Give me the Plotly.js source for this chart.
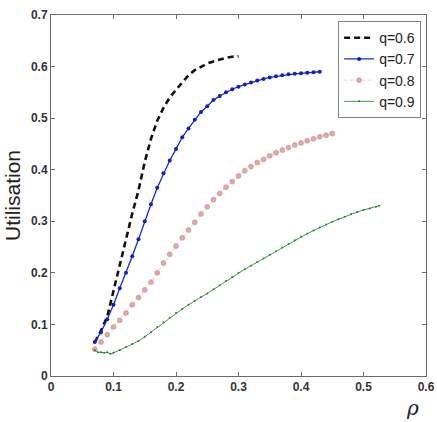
<!DOCTYPE html>
<html>
<head>
<meta charset="utf-8">
<script src="https://cdn.plot.ly/plotly-3.0.1.min.js"></script>
<style>html,body{margin:0;padding:0;background:#fff;}#chart{width:437px;height:422px;}</style>
</head>
<body>
<div id="chart"></div>
<script>
// q = 0.6
const rho06 = [0.07,0.08,0.09,0.10,0.11,0.12,0.13,0.14,0.15,0.16,0.17,0.18,0.19,0.20,0.21,0.22,0.23,0.24,0.25,0.26,0.27,0.28,0.29,0.30];
const util06 = [0.065,0.088,0.115,0.165,0.22,0.265,0.315,0.36,0.415,0.46,0.495,0.52,0.54,0.555,0.57,0.583,0.593,0.600,0.606,0.610,0.614,0.617,0.619,0.620];
// q = 0.7
const rho07 = [0.07,0.08,0.09,0.10,0.11,0.12,0.13,0.14,0.15,0.16,0.17,0.18,0.19,0.20,0.21,0.22,0.23,0.24,0.25,0.26,0.27,0.28,0.29,0.30,0.31,0.32,0.33,0.34,0.35,0.36,0.37,0.38,0.39,0.40,0.41,0.42,0.43];
const util07 = [0.066,0.085,0.11,0.138,0.17,0.2,0.232,0.265,0.3,0.333,0.365,0.393,0.418,0.44,0.463,0.48,0.497,0.512,0.523,0.535,0.543,0.55,0.556,0.561,0.565,0.569,0.573,0.576,0.579,0.581,0.583,0.585,0.586,0.587,0.588,0.589,0.59];
// q = 0.8
const rho08 = [0.07,0.08,0.09,0.10,0.11,0.12,0.13,0.14,0.15,0.16,0.17,0.18,0.19,0.20,0.21,0.22,0.23,0.24,0.25,0.26,0.27,0.28,0.29,0.30,0.31,0.32,0.33,0.34,0.35,0.36,0.37,0.38,0.39,0.40,0.41,0.42,0.43,0.44,0.45];
const util08 = [0.052,0.066,0.08,0.095,0.108,0.122,0.138,0.152,0.167,0.182,0.2,0.219,0.236,0.252,0.268,0.283,0.298,0.314,0.328,0.342,0.354,0.366,0.377,0.388,0.398,0.406,0.414,0.42,0.427,0.433,0.438,0.443,0.448,0.452,0.456,0.46,0.464,0.467,0.47];
// q = 0.9
const rho09 = [0.07,0.075,0.08,0.085,0.09,0.095,0.10,0.11,0.12,0.13,0.14,0.15,0.16,0.17,0.18,0.19,0.20,0.21,0.22,0.23,0.24,0.25,0.26,0.27,0.28,0.29,0.30,0.31,0.32,0.33,0.34,0.35,0.36,0.37,0.38,0.39,0.40,0.41,0.42,0.43,0.44,0.45,0.46,0.47,0.48,0.49,0.50,0.51,0.52,0.525];
const util09 = [0.05,0.046,0.046,0.045,0.046,0.043,0.045,0.05,0.056,0.062,0.068,0.076,0.085,0.095,0.104,0.113,0.122,0.13,0.138,0.146,0.153,0.16,0.168,0.176,0.184,0.192,0.2,0.207,0.214,0.221,0.228,0.235,0.242,0.249,0.256,0.263,0.27,0.276,0.282,0.288,0.294,0.299,0.304,0.309,0.314,0.318,0.322,0.325,0.328,0.33];

const seriesNames = ['q=0.6','q=0.7','q=0.8','q=0.9'];
const xTicks = [0,0.1,0.2,0.3,0.4,0.5,0.6];
const yTicks = [0,0.1,0.2,0.3,0.4,0.5,0.6,0.7];

const traces = [
  {x: rho06, y: util06, name: seriesNames[0], mode: 'lines',
   line: {color: '#111111', width: 2.6, dash: '6px,4px'}},
  {x: rho07, y: util07, name: seriesNames[1], mode: 'lines+markers',
   line: {color: '#1a2bd0', width: 1.3}, marker: {color: '#1020c0', size: 4, symbol: 'circle'}},
  {x: rho08, y: util08, name: seriesNames[2], mode: 'lines+markers',
   line: {color: '#ecc8c8', width: 1, dash: 'dot'},
   marker: {color: '#dcaaaa', size: 5, symbol: 'circle', line: {color: '#c99090', width: 0.6}}},
  {x: rho09, y: util09, name: seriesNames[3], mode: 'lines+markers',
   line: {color: '#3f9a4f', width: 1}, marker: {color: '#2f7a3f', size: 2}}
];

const axisCommon = {
  showgrid: false, zeroline: false, showline: true, mirror: 'ticks',
  linecolor: '#6a6a6a', linewidth: 1, ticks: 'inside', ticklen: 4, tickcolor: '#6a6a6a',
  tickfont: {family: 'Liberation Sans Narrow, Liberation Sans, Arial, sans-serif', size: 12, color: '#333', weight: 'bold'}
};

const layout = {
  width: 437, height: 422,
  margin: {l: 51, r: 11, t: 15, b: 46},
  paper_bgcolor: '#ffffff', plot_bgcolor: '#ffffff',
  showlegend: true,
  legend: {x: 0.987, y: 0.983, xanchor: 'right', yanchor: 'top',
    bgcolor: '#ffffff', bordercolor: '#808080', borderwidth: 1,
    font: {family: 'Liberation Sans Narrow, Liberation Sans, Arial, sans-serif', size: 14, color: '#222'},
    itemwidth: 30, tracegroupgap: 0},
  xaxis: Object.assign({}, axisCommon, {range: [0, 0.6], tickvals: xTicks,
    ticktext: xTicks.map(String), title: {text: ''}}),
  yaxis: Object.assign({}, axisCommon, {range: [0, 0.7], tickvals: yTicks,
    ticktext: yTicks.map(String),
    title: {text: 'Utilisation', font: {family: 'Liberation Sans, Arial, sans-serif', size: 21, color: '#222'}, standoff: 4}}),
  annotations: [{
    text: 'ρ', xref: 'paper', yref: 'paper', x: 0.963, y: -0.088, xanchor: 'center', yanchor: 'middle',
    showarrow: false, font: {family: 'DejaVu Serif, serif', size: 20, color: '#222', style: 'italic'}
  }]
};

Plotly.newPlot('chart', traces, layout, {displayModeBar: false, staticPlot: true});
</script>
</body>
</html>
